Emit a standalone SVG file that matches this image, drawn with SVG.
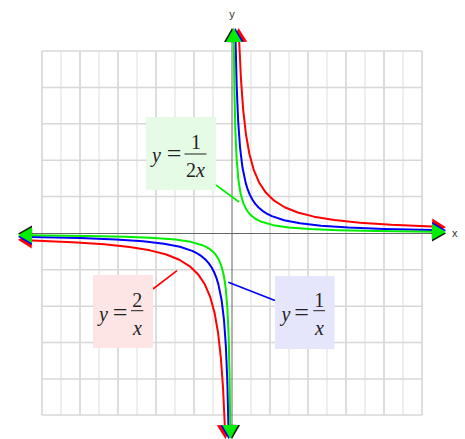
<svg xmlns="http://www.w3.org/2000/svg" xmlns:xlink="http://www.w3.org/1999/xlink" width="465" height="439" viewBox="0 0 465 439">
<style>
.gv1{stroke:#d2d2d2;stroke-width:1.5}
.gv2{stroke:#e8e8e8;stroke-width:1.5}
.gh{stroke:#d8d8d8;stroke-width:1.5}
.axis{stroke:#666;stroke-width:1;fill:none}
.crv{fill:none;stroke-width:2;stroke-linejoin:round}
.lead{stroke-width:1.6}
.eq{font-family:"Liberation Serif","Times New Roman",serif;font-size:20px;fill:#222}
.it{font-style:italic}
.ax{font-family:"Liberation Sans",Arial,sans-serif;font-size:11px;fill:#333}
</style>
<defs>
<marker id="aK" markerUnits="userSpaceOnUse" markerWidth="16" markerHeight="16" refX="0" refY="8" orient="auto-start-reverse" overflow="visible"><path d="M0,0 L14,8 L0,16 Z" fill="#111"/></marker>
<marker id="aR" markerUnits="userSpaceOnUse" markerWidth="16" markerHeight="16" refX="0" refY="8" orient="auto-start-reverse" overflow="visible"><path d="M0,0 L14,8 L0,16 Z" fill="#ff0000"/></marker>
<marker id="aB" markerUnits="userSpaceOnUse" markerWidth="16" markerHeight="16" refX="0" refY="8" orient="auto-start-reverse" overflow="visible"><path d="M0,0 L14,8 L0,16 Z" fill="#0000ff"/></marker>
<marker id="aG" markerUnits="userSpaceOnUse" markerWidth="16" markerHeight="16" refX="0" refY="8" orient="auto-start-reverse" overflow="visible"><path d="M0,0 L14,8 L0,16 Z" fill="#00ee00"/></marker>
</defs>
<rect width="465" height="439" fill="#fff"/>
<g id="grid">
<g class="gv2">
<line x1="61" y1="51" x2="61" y2="415"/><line x1="99" y1="51" x2="99" y2="415"/><line x1="137" y1="51" x2="137" y2="415"/><line x1="175" y1="51" x2="175" y2="415"/><line x1="213" y1="51" x2="213" y2="415"/><line x1="251" y1="51" x2="251" y2="415"/><line x1="289" y1="51" x2="289" y2="415"/><line x1="327" y1="51" x2="327" y2="415"/><line x1="365" y1="51" x2="365" y2="415"/><line x1="403" y1="51" x2="403" y2="415"/>
</g>
<g class="gv1">
<line x1="42" y1="51" x2="42" y2="415"/><line x1="80" y1="51" x2="80" y2="415"/><line x1="118" y1="51" x2="118" y2="415"/><line x1="156" y1="51" x2="156" y2="415"/><line x1="194" y1="51" x2="194" y2="415"/><line x1="270" y1="51" x2="270" y2="415"/><line x1="308" y1="51" x2="308" y2="415"/><line x1="346" y1="51" x2="346" y2="415"/><line x1="384" y1="51" x2="384" y2="415"/><line x1="422" y1="51" x2="422" y2="415"/>
</g>
<g class="gh">
<line x1="42" y1="51" x2="422" y2="51"/><line x1="42" y1="87.4" x2="422" y2="87.4"/><line x1="42" y1="123.8" x2="422" y2="123.8"/><line x1="42" y1="160.2" x2="422" y2="160.2"/><line x1="42" y1="196.6" x2="422" y2="196.6"/><line x1="42" y1="269.8" x2="422" y2="269.8"/><line x1="42" y1="306.2" x2="422" y2="306.2"/><line x1="42" y1="342.6" x2="422" y2="342.6"/><line x1="42" y1="379" x2="422" y2="379"/><line x1="42" y1="415" x2="422" y2="415"/>
</g>
</g>
<g id="axes">
<line class="axis" x1="32" y1="233.5" x2="432" y2="233.5" marker-start="url(#aK)" marker-end="url(#aK)"/>
<line class="axis" x1="232" y1="42" x2="232" y2="425" marker-start="url(#aK)" marker-end="url(#aK)"/>
<text class="ax" x="232" y="18" text-anchor="middle">y</text>
<text class="ax" x="452" y="237">x</text>
</g>
<g id="curves">
<path id="redUp" class="crv" stroke="#ff0000" marker-start="url(#aR)" marker-end="url(#aR)" d="M239.22,42 L240.95,78.9 L243.17,109.6 L245.94,134.25 L249.39,153.97 L253.71,169.78 L259.09,182.44 L265.81,192.59 L274.19,200.71 L284.66,207.23 L297.72,212.45 L314.02,216.64 L334.36,219.99 L359.75,222.67 L391.43,224.82 L432,226.58"/>
<use xlink:href="#redUp" href="#redUp" transform="rotate(180 232 233.5)"/>
<path id="blueUp" class="crv" stroke="#0000ff" marker-start="url(#aB)" marker-end="url(#aB)" d="M235.61,42 L236.68,85.7 L238.12,120.5 L240,147.05 L242.45,167.32 L245.66,182.87 L247.7,189.45 L249.85,194.75 L252.5,199.76 L255.33,203.86 L258.6,207.5 L262.49,210.82 L266.8,213.63 L271.85,216.15 L284.08,220.22 L300.07,223.34 L320.97,225.73 L348.3,227.55 L384,228.95 L432,230.04"/>
<use xlink:href="#blueUp" href="#blueUp" transform="rotate(180 232 233.5)"/>
<path id="greenUp" class="crv" stroke="#00ee00" marker-start="url(#aG)" marker-end="url(#aG)" d="M233.81,42 L234.45,92.4 L235.36,130.6 L236.6,158.3 L238.29,178.5 L239.4,186.77 L240.61,193.3 L242.1,199.26 L243.79,204.17 L245.8,208.44 L248.14,212.08 L251,215.3 L254.1,217.85 L258,220.2 L262.25,222.07 L273.41,225.15 L288.69,227.4 L309.6,229.04 L338.2,230.24 L377.4,231.12 L432,231.77"/>
<use xlink:href="#greenUp" href="#greenUp" transform="rotate(180 232 233.5)"/>
</g>
<g id="connectors">
<line class="lead" x1="216" y1="185" x2="239" y2="202" stroke="#00ee00"/>
<line class="lead" x1="153" y1="289" x2="177" y2="270.7" stroke="#ff0000"/>
<line class="lead" x1="228.3" y1="282.3" x2="275" y2="300.5" stroke="#0000ff"/>
</g>
<g id="label-half">
<rect x="146" y="117" width="70" height="73" fill="#e5fbe5"/>
<text class="eq it" x="152" y="162">y</text>
<text class="eq" x="174" y="162" text-anchor="middle" style="font-size:26px">=</text>
<line x1="184.5" y1="154" x2="206.5" y2="154" stroke="#222" stroke-width="1"/>
<text class="eq" x="196" y="148.5" text-anchor="middle">1</text>
<text class="eq" x="195.5" y="176.5" text-anchor="middle">2<tspan class="it">x</tspan></text>
</g>
<g id="label-two">
<rect x="93" y="275" width="60" height="73" fill="#fde5e5"/>
<text class="eq it" x="99" y="320.5">y</text>
<text class="eq" x="120" y="320.5" text-anchor="middle" style="font-size:26px">=</text>
<line x1="131" y1="310.7" x2="143.3" y2="310.7" stroke="#222" stroke-width="1"/>
<text class="eq" x="137.2" y="307" text-anchor="middle">2</text>
<text class="eq it" x="137.5" y="335" text-anchor="middle">x</text>
</g>
<g id="label-one">
<rect x="275" y="276" width="59.5" height="73" fill="#e5e5fc"/>
<text class="eq it" x="281.5" y="320.5">y</text>
<text class="eq" x="301.5" y="320.5" text-anchor="middle" style="font-size:26px">=</text>
<line x1="313.3" y1="310.7" x2="325" y2="310.7" stroke="#222" stroke-width="1"/>
<text class="eq" x="319.2" y="307" text-anchor="middle">1</text>
<text class="eq it" x="319.5" y="335" text-anchor="middle">x</text>
</g>
</svg>
